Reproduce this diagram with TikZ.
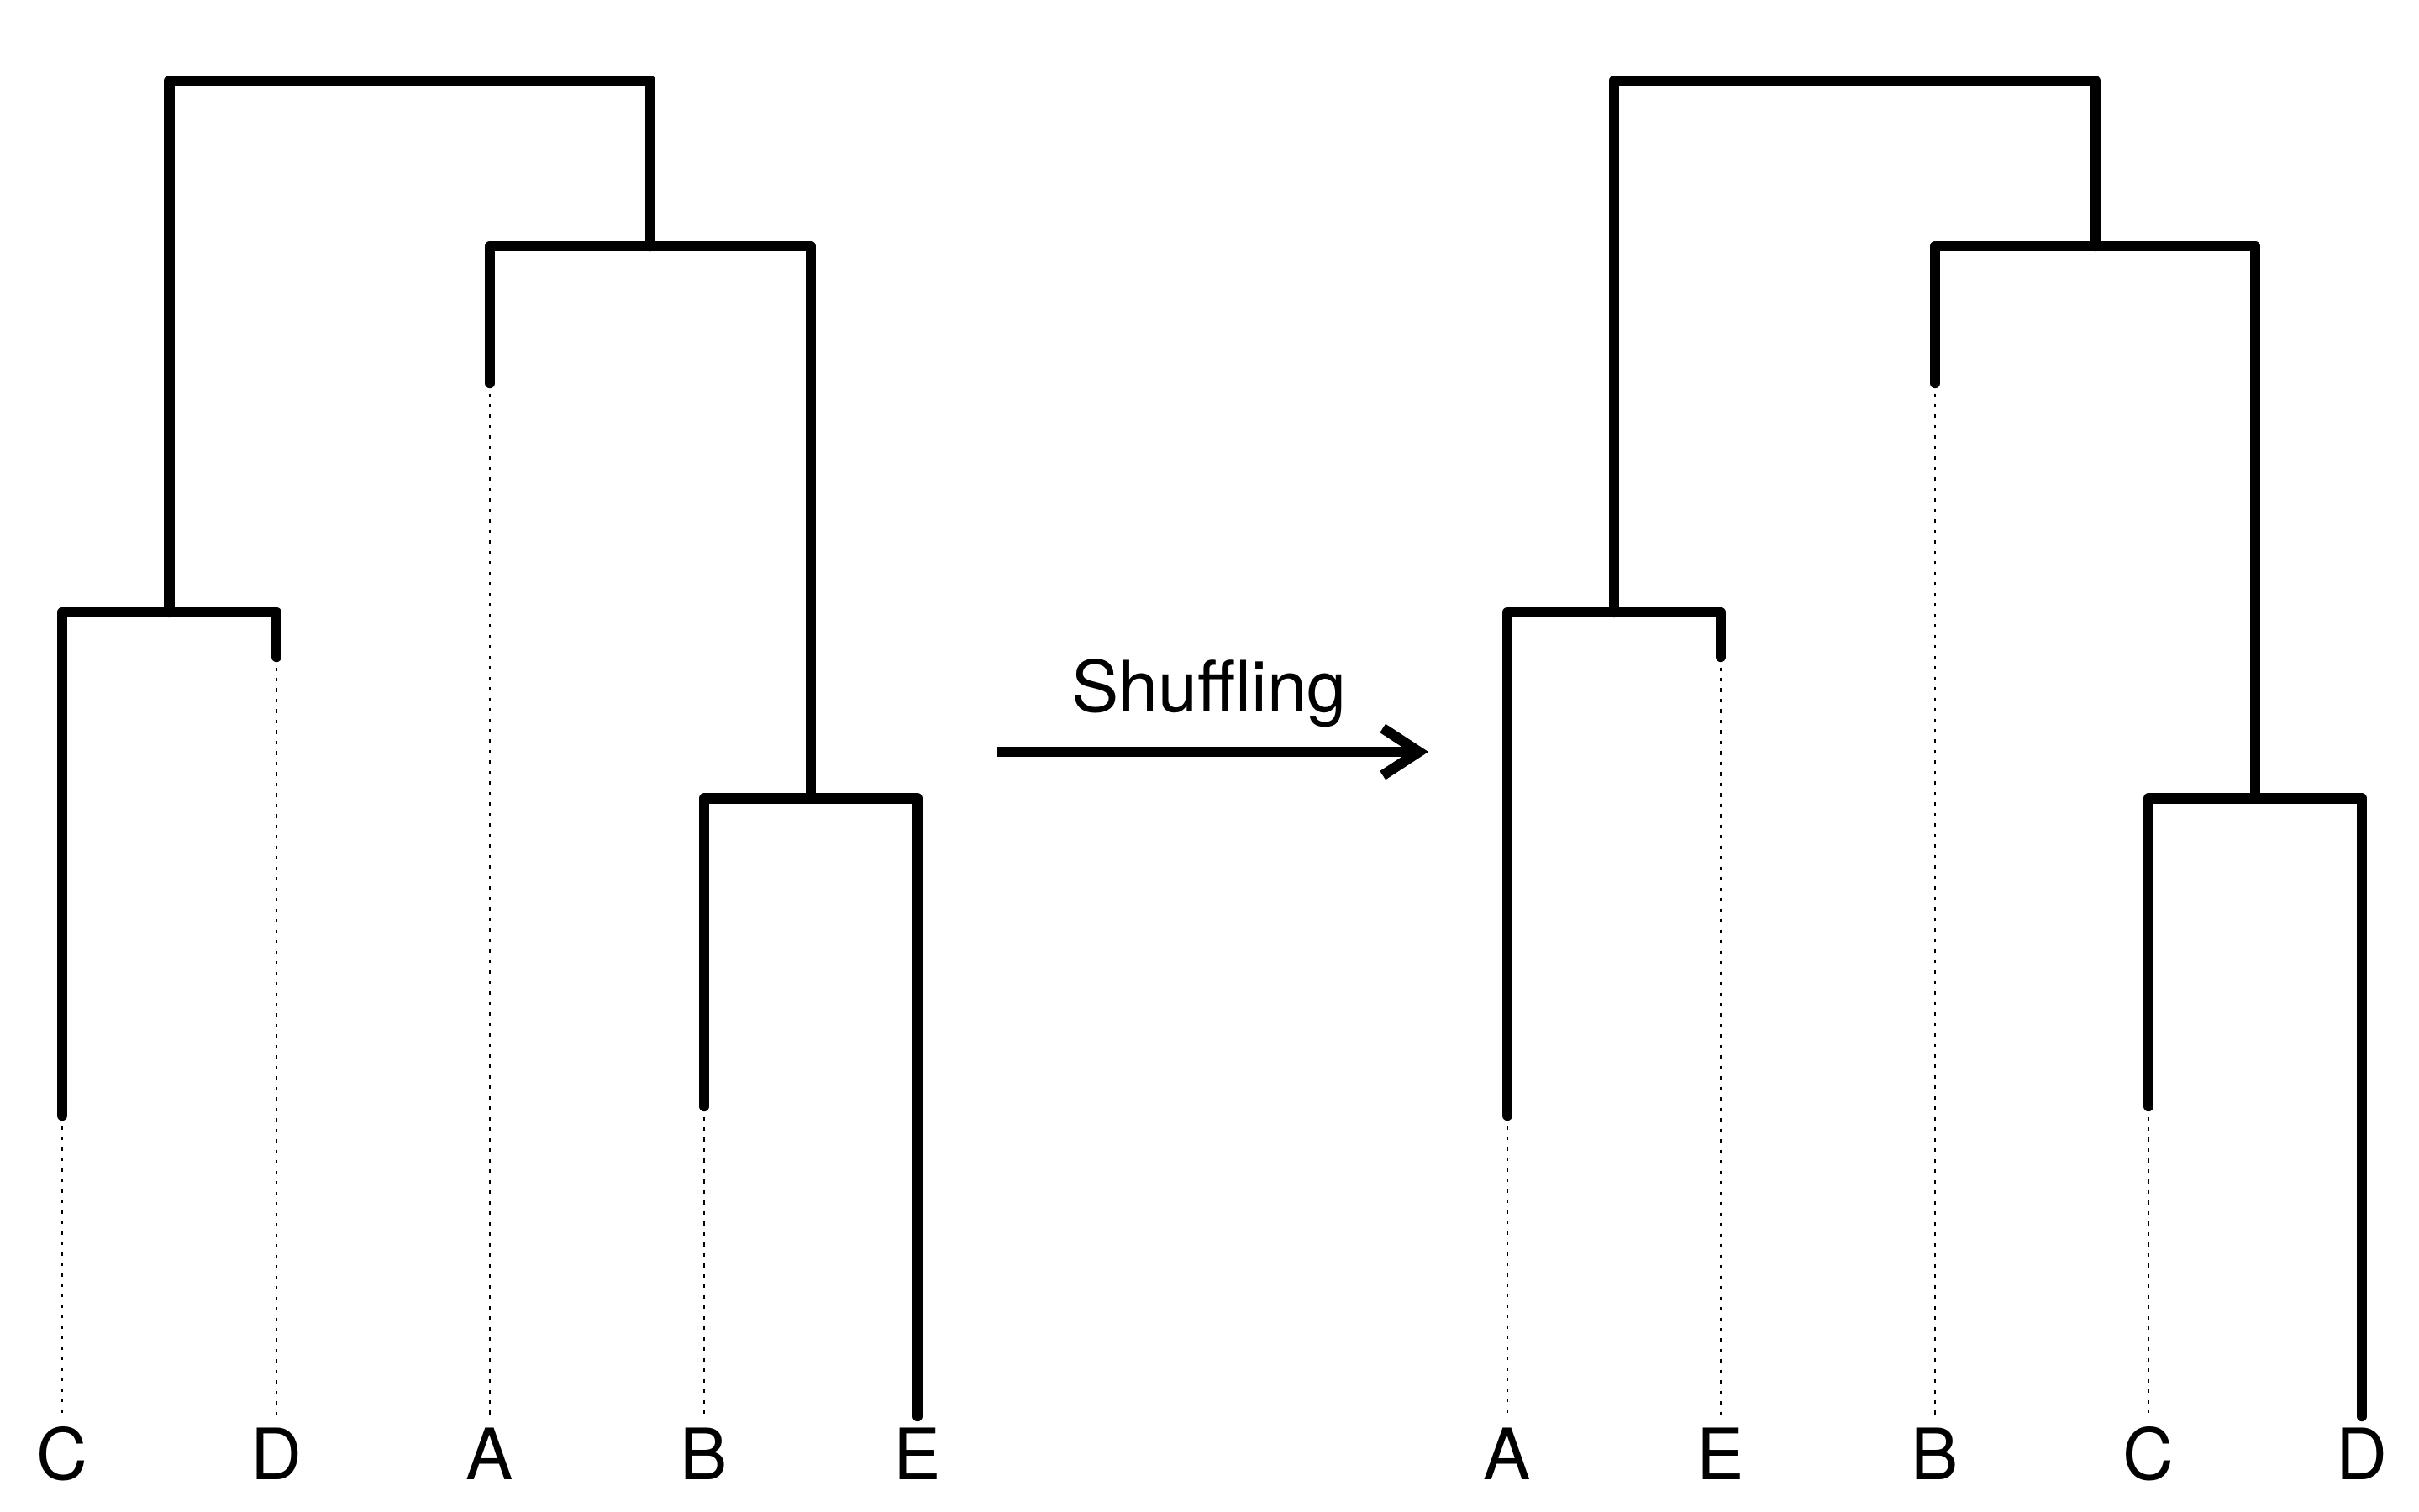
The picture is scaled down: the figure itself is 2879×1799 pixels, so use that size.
\documentclass[tikz,border=0pt]{standalone}
\usepackage{fontspec}
\setmainfont{TeX Gyre Heros}
\usetikzlibrary{arrows.meta}

\begin{document}
\begin{tikzpicture}[x=0.01cm,y=-0.01cm]
\path[use as bounding box] (0,0) rectangle (2879,1799);

\tikzstyle{every node}+=[font=\fontsize{24}{29}\selectfont,inner sep=4.5pt]
\tikzstyle{branch}=[line width=3.5pt,line cap=round,line join=round]
\tikzstyle{guide}=[line width=0.65pt,dash pattern=on 1.2pt off 2.35pt]

% before shuffling
\foreach \lab/\x/\t [count=\i] in {C/74/1328,D/329/782,A/583/456,B/838/1317,E/1092/1686} {
  \coordinate (a\i) at (\x,\t);
  \node (la\i) at (\x,1731) {\lab};
  \draw[guide] (a\i) -- (la\i);
}
\coordinate (acd) at (201.5,729);
\coordinate (abe) at (965,950.5);
\coordinate (aabe) at (774,293);
\coordinate (aroot) at (488,96);

\draw[branch] (a1) |- (acd) -| (a2);
\draw[branch] (a4) |- (abe) -| (a5);
\draw[branch] (a3) |- (aabe) -| (abe);
\draw[branch] (acd) |- (aroot) -| (aabe);

% shuffling arrow
\coordinate (sfrom) at (1186,895);
\coordinate (sto) at (1700,895);
\draw[branch,line cap=butt,-{Straight Barb[length=0.43cm,width=0.56cm]}] (sfrom) -- (sto);
\node[anchor=base] (shuf) at (1439,847) {Shuffling};

% after shuffling
\foreach \lab/\x/\t [count=\i] in {A/1794/1328,E/2048/782,B/2303/456,C/2557/1317,D/2811/1686} {
  \coordinate (b\i) at (\x,\t);
  \node (lb\i) at (\x,1731) {\lab};
  \draw[guide] (b\i) -- (lb\i);
}
\coordinate (bae) at (1921,729);
\coordinate (bcd) at (2684,950.5);
\coordinate (bbcd) at (2493.5,293);
\coordinate (broot) at (2207,96);

\draw[branch] (b1) |- (bae) -| (b2);
\draw[branch] (b4) |- (bcd) -| (b5);
\draw[branch] (b3) |- (bbcd) -| (bcd);
\draw[branch] (bae) |- (broot) -| (bbcd);
\end{tikzpicture}
\end{document}
